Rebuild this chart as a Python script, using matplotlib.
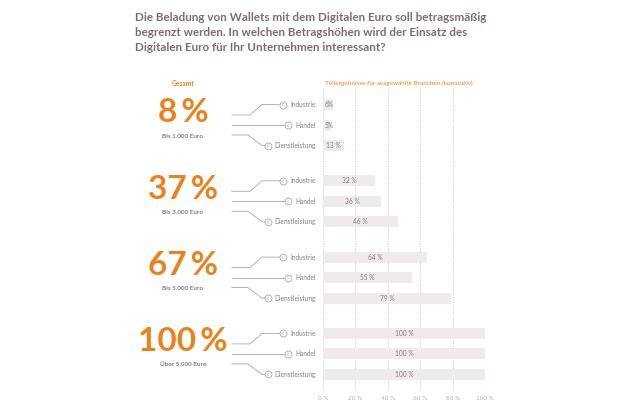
import numpy as np
import matplotlib
matplotlib.use("Agg")
import matplotlib.pyplot as plt

# data
totals = [8, 37, 67, 100]
total_labels = ["Bis 1.000 Euro", "Bis 3.000 Euro", "Bis 5.000 Euro", "Über 5.000 Euro"]
branches = ["Industrie", "Handel", "Dienstleistung"]
industrie = [6, 32, 64, 100]
handel = [5, 36, 55, 100]
dienstleistung = [13, 46, 79, 100]
xticks = [0, 20, 40, 60, 80, 100]

title = ("Die Beladung von Wallets mit dem Digitalen Euro soll betragsmäßig\n"
         "begrenzt werden. In welchen Betragshöhen wird der Einsatz des\n"
         "Digitalen Euro für Ihr Unternehmen interessant?")

ORANGE = "#e8831f"
TITLE_C = "#7b6e72"
TXT = "#857c81"
BAR = "#efebeb"
GRID = "#c9c4c5"

plt.rcParams['font.family'] = ['Lato', 'DejaVu Sans']

W, H = 620, 413
fig = plt.figure(figsize=(6.2, 4.13), dpi=100)
fig.patch.set_facecolor("white")

# layout (pixels)
group_step = 76.3
row_step = 20.5
handel_y0 = 125

def row_y(g, r):
    return handel_y0 + g * group_step + (r - 1) * row_step

# bar axes
x0_px, x1_px = 323, 485
top_px, bot_px = 88, 390
ax = fig.add_axes([x0_px / W, 1 - bot_px / H, (x1_px - x0_px) / W, (bot_px - top_px) / H])
ax.set_xlim(0, 100)
ax.set_ylim(bot_px, top_px)
ax.axis("off")
for t in xticks:
    ax.axvline(t, color=GRID, lw=0.7, ls=(0, (1, 1.5)), zorder=0)

series = [industrie, handel, dienstleistung]
for r, vals in enumerate(series):
    ys = [row_y(g, r) for g in range(len(vals))]
    ax.barh(ys, vals, height=11, color=BAR, zorder=1)
    for y, v in zip(ys, vals):
        if v < 10:
            ax.text(0.8, y, f"{v}%", ha="left", va="center", fontsize=4.8, color=TXT, zorder=2)
        else:
            ax.text(v / 2, y, f"{v} %", ha="center", va="center", fontsize=4.8, color=TXT, zorder=2)

# overlay for decoration
ov = fig.add_axes([0, 0, 1, 1], zorder=-1)
ov.set_xlim(0, W)
ov.set_ylim(H, 0)
ov.axis("off")

ov.text(135, 32.5, title, ha="left", va="center", fontsize=8.4, fontweight="bold",
        color=TITLE_C, linespacing=1.45)
ov.text(183, 83, "Gesamt", ha="center", va="center", fontsize=4.8, fontweight="bold", color=ORANGE)
ov.text(399, 83, "Teilergebnisse für ausgewählte Branchen (kumulativ)", ha="center",
        va="center", fontsize=4.6, color=ORANGE)

for t in xticks:
    xp = x0_px + (x1_px - x0_px) * t / 100
    ov.text(xp, 399, f"{t} %", ha="center", va="center", fontsize=4.6, color="#b5aeb0")

lc = "#aca5a7"
for g in range(len(totals)):
    yh = row_y(g, 1)
    ov.text(183, yh - 12, f"{totals[g]}\u2009%", ha="center", va="center", fontsize=24,
            fontweight="bold", color=ORANGE)
    ov.text(183, yh + 11, total_labels[g], ha="center", va="center", fontsize=4.6,
            fontweight="bold", color=TXT)
    # connectors
    yi, yd = row_y(g, 0), row_y(g, 2)
    ov.plot([232, 250, 262, 280], [yh - 10, yh - 10, yi, yi], color=lc, lw=0.6)
    ov.plot([232, 285], [yh, yh], color=lc, lw=0.6)
    ov.plot([232, 248, 262, 265], [yh + 10, yh + 10, yd, yd], color=lc, lw=0.6)
    for cx, cy in [(283, yi), (288, yh), (268, yd)]:
        ov.plot(cx, cy, marker="o", ms=5, mfc="white", mec=lc, mew=0.6)
        ov.text(cx, cy + 0.3, "c", ha="center", va="center", fontsize=3.5, color=lc)
    for r, name in enumerate(branches):
        ov.text(316, row_y(g, r), name, ha="right", va="center", fontsize=4.7, color=TXT)

fig.savefig("out.png", dpi=100, facecolor="white")
